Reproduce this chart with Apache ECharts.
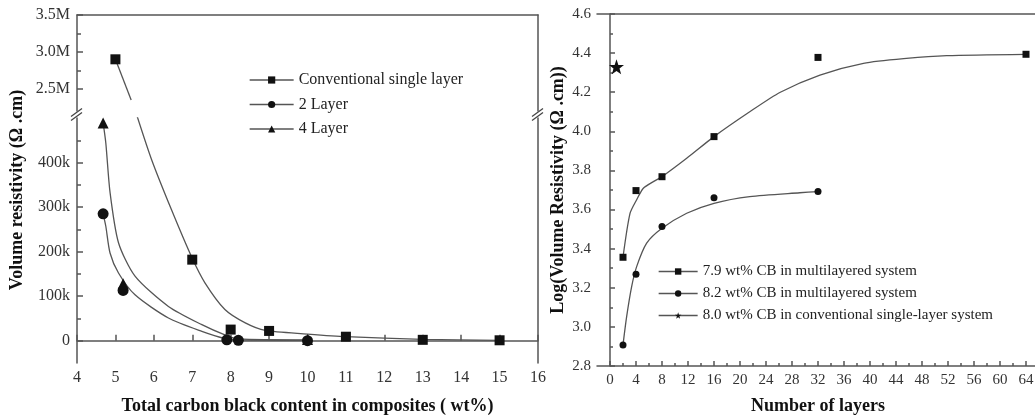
<!DOCTYPE html>
<html>
<head>
<meta charset="utf-8">
<script src="https://cdn.jsdelivr.net/npm/echarts@6/dist/echarts.min.js"></script>
<style>
  html, body { margin: 0; padding: 0; background: #fff; }
  #chart { width: 1035px; height: 417px; }
</style>
</head>
<body>
<div id="chart"></div>
<script>
// ---- left panel: resistivity vs carbon black content ----
const leftNames = ['Conventional single layer', '2 Layer', '4 Layer'];
const convUpper = [[5, 2900000]];
const convLower = [[7, 182000], [8, 25000], [9, 22000], [11, 9000], [13, 2000], [15, 1000]];
const layer2 = [[4.68, 285000], [5.2, 113000], [7.9, 2000], [8.2, 1000], [10, 0]];
const layer4 = [[4.68, 489000], [5.2, 128000], [10, 3000]];
// fitted curves
const convFitUpper = [[5, 2900000], [5.41, 2350000]];
const convFitLower = [[5.55, 508000], [5.94, 407000], [6.46, 294000], [7.0, 185000], [7.33, 130000],
  [7.85, 70000], [8.38, 40000], [8.9, 23000], [10, 15000], [11, 9000], [13, 3000], [15, 1000]];
const layer2Fit = [[4.68, 285000], [4.75, 257000], [4.86, 197000], [5.08, 152000], [5.51, 103000],
  [6.38, 51000], [7.25, 21000], [7.85, 5000], [8.2, 2000], [10, 1000]];
const layer4Fit = [[4.68, 489000], [4.75, 444000], [4.86, 333000], [5.08, 220000], [5.51, 145000],
  [6.38, 77000], [7.25, 36000], [7.85, 13000], [8.2, 4000], [10, 2000]];
const upperTicks = [2500000, 3000000, 3500000];
const upperMinor = [2750000, 3250000];
const lowerTicks = [0, 100000, 200000, 300000, 400000];
const lowerMinor = [50000, 150000, 250000, 350000, 450000];

// ---- right panel: log resistivity vs number of layers ----
const rightNames = ['7.9 wt% CB in multilayered system', '8.2 wt% CB in multilayered system',
  '8.0 wt% CB in conventional single-layer system'];
const cb79 = [[2, 3.356], [4, 3.697], [8, 3.768], [16, 3.973], [32, 4.378], [64, 4.394]];
const cb82 = [[2, 2.908], [4, 3.269], [8, 3.513], [16, 3.661], [32, 3.692]];
const cb80 = [[1, 4.33]];
const cb79Fit = [[2, 3.356], [3.08, 3.58], [4.1, 3.65], [5.13, 3.709], [6.67, 3.743], [8, 3.768],
  [11.8, 3.862], [16, 3.973], [21.5, 4.10], [26.2, 4.20], [32.3, 4.288], [39, 4.348], [45.6, 4.373],
  [51.8, 4.387], [64, 4.394]];
const cb82Fit = [[2, 2.908], [2.56, 3.052], [3.33, 3.206], [4.1, 3.308], [5.64, 3.428], [8, 3.504],
  [11.8, 3.581], [16, 3.632], [21.5, 3.666], [29.2, 3.686], [32, 3.692]];
const layerTicks = [0, 4, 8, 12, 16, 20, 24, 28, 32, 36, 40, 44, 48, 52, 56, 60, 64];
const layerMinor = [2, 6, 10, 14, 18, 22, 26, 30, 34, 38, 42, 46, 50, 54, 58, 62];
const logTicks = [2.8, 3.0, 3.2, 3.4, 3.6, 3.8, 4.0, 4.2, 4.4, 4.6];
const logMinor = [2.9, 3.1, 3.3, 3.5, 3.7, 3.9, 4.1, 4.3, 4.5];

const FONT = '"Liberation Serif", "DejaVu Serif", serif';
const frame = { color: '#555', width: 1.5 };
const leftBox = { left: 77, width: 461, top: 15, bottom: 363, breakTop: 111, breakBottom: 118 };

function lineOnly(extra) {
  return Object.assign({
    type: 'value', axisLine: { show: true, lineStyle: frame },
    axisTick: { show: false }, axisLabel: { show: false }, splitLine: { show: false }
  }, extra);
}

function ticksOnly(extra, vals, len) {
  return Object.assign({
    type: 'value', axisLine: { show: false },
    axisTick: { show: true, inside: true, length: len, customValues: vals, lineStyle: frame },
    axisLabel: { show: false }, splitLine: { show: false }
  }, extra);
}

function marks(name, data, symbol, size, xi, yi) {
  return {
    name: name, type: 'line', data: data, xAxisIndex: xi, yAxisIndex: yi,
    symbol: symbol, symbolSize: size, showSymbol: true,
    lineStyle: { opacity: 0 }, itemStyle: { color: '#111' }, z: 5
  };
}

function fit(data, xi, yi) {
  return {
    type: 'line', data: data, xAxisIndex: xi, yAxisIndex: yi, symbol: 'none',
    smooth: 0.25, silent: true,
    lineStyle: { color: '#555', width: 1.3 }, z: 3
  };
}

const labelStyle = (size) => ({ fontFamily: FONT, fontSize: size, color: '#333' });
const titleStyle = { fontFamily: FONT, fontSize: 18, fontWeight: 'bold', color: '#111' };

const chart = echarts.init(document.getElementById('chart'));

const option = {
  animation: false,
  backgroundColor: '#fff',
  grid: [
    { left: leftBox.left, width: leftBox.width, top: leftBox.top, height: leftBox.breakTop - leftBox.top, outerBoundsMode: 'none' },
    { left: leftBox.left, width: leftBox.width, top: leftBox.breakBottom, height: leftBox.bottom - leftBox.breakBottom, outerBoundsMode: 'none' },
    { left: 597, width: 442, top: 14, height: 352, outerBoundsMode: 'none' }
  ],
  xAxis: [
    lineOnly({ gridIndex: 0, min: 4, max: 16, position: 'top' }),
    {
      gridIndex: 1, type: 'value', min: 4, max: 16, interval: 1, position: 'bottom',
      axisLine: { show: true, lineStyle: frame },
      axisTick: { show: true, inside: true, length: 6, lineStyle: frame },
      axisLabel: Object.assign({ margin: 7 }, labelStyle(16)),
      splitLine: { show: false },
      name: 'Total carbon black content in composites ( wt%)',
      nameLocation: 'middle', nameGap: 34, nameTextStyle: titleStyle
    },
    {
      gridIndex: 2, type: 'value', min: -2, max: 66, position: 'bottom',
      axisLine: { show: true, lineStyle: frame },
      axisTick: { show: true, inside: true, length: 5, customValues: layerTicks, lineStyle: frame },
      axisLabel: Object.assign({ margin: 7, customValues: layerTicks }, labelStyle(15)),
      splitLine: { show: false },
      name: 'Number of layers',
      nameLocation: 'middle', nameGap: 31, nameTextStyle: titleStyle
    },
    ticksOnly({ gridIndex: 2, min: -2, max: 66, position: 'bottom' }, layerMinor, 3),
    lineOnly({ gridIndex: 2, min: -2, max: 66, position: 'top' })
  ],
  yAxis: [
    {
      gridIndex: 0, type: 'value', min: 2200000, max: 3500000, position: 'left',
      axisLine: { show: true, lineStyle: frame },
      axisTick: { show: true, inside: true, length: 6, customValues: upperTicks, lineStyle: frame },
      axisLabel: Object.assign({
        margin: 7, customValues: upperTicks,
        formatter: (v) => (v / 1000000).toFixed(1) + 'M'
      }, labelStyle(16)),
      splitLine: { show: false }
    },
    ticksOnly({ gridIndex: 0, min: 2200000, max: 3500000, position: 'left' }, upperMinor, 4),
    lineOnly({ gridIndex: 0, min: 2200000, max: 3500000, position: 'right' }),
    {
      gridIndex: 1, type: 'value', min: -50000, max: 500000, position: 'left',
      axisLine: { show: true, lineStyle: frame },
      axisTick: { show: true, inside: true, length: 6, customValues: lowerTicks, lineStyle: frame },
      axisLabel: Object.assign({
        margin: 7, customValues: lowerTicks,
        formatter: (v) => (v === 0 ? '0' : v / 1000 + 'k')
      }, labelStyle(16)),
      splitLine: { show: false }
    },
    ticksOnly({ gridIndex: 1, min: -50000, max: 500000, position: 'left' }, lowerMinor, 4),
    lineOnly({ gridIndex: 1, min: -50000, max: 500000, position: 'right' }),
    {
      gridIndex: 2, type: 'value', min: 2.8, max: 4.6, position: 'left',
      axisLine: { show: true, lineStyle: frame },
      axisTick: { show: true, inside: true, length: 5, customValues: logTicks, lineStyle: frame },
      axisLabel: Object.assign({
        margin: 6, customValues: logTicks, formatter: (v) => v.toFixed(1)
      }, labelStyle(15)),
      splitLine: { show: false },
      name: 'Log(Volume Resistivity (Ω .cm))',
      nameLocation: 'middle', nameRotate: 90, nameGap: 30, nameTextStyle: titleStyle
    },
    ticksOnly({ gridIndex: 2, min: 2.8, max: 4.6, position: 'left' }, logMinor, 3)
  ],
  legend: [
    {
      data: leftNames, orient: 'vertical', left: 244, top: 67,
      itemWidth: 44, itemHeight: 9, itemGap: 8.5,
      textStyle: { fontFamily: FONT, fontSize: 16, lineHeight: 16, color: '#222' },
      lineStyle: { color: '#555', width: 1.3, opacity: 1 },
      selectedMode: false
    },
    {
      data: rightNames, orient: 'vertical', left: 653, top: 259,
      itemWidth: 39, itemHeight: 8, itemGap: 7,
      textStyle: { fontFamily: FONT, fontSize: 15, lineHeight: 15, color: '#222' },
      lineStyle: { color: '#555', width: 1.3, opacity: 1 },
      selectedMode: false
    }
  ],
  graphic: [
    {
      type: 'text', x: 17, y: 190, rotation: Math.PI / 2,
      style: {
        text: 'Volume resistivity (Ω .cm)', font: 'bold 18px ' + FONT, fill: '#111',
        align: 'center', verticalAlign: 'middle'
      }
    }
  ].concat([leftBox.left, leftBox.left + leftBox.width].flatMap((x) => {
    const y = (leftBox.breakTop + leftBox.breakBottom) / 2;
    return [-2, 2].map((d) => ({
      type: 'line', silent: true,
      shape: { x1: x - 6, y1: y + d + 4, x2: x + 5, y2: y + d - 4 },
      style: { stroke: '#444', lineWidth: 1.3 }
    }));
  })),
  series: [
    fit(convFitUpper, 0, 0),
    fit(convFitLower, 1, 3),
    fit(layer2Fit, 1, 3),
    fit(layer4Fit, 1, 3),
    marks(leftNames[0], convUpper, 'rect', 10, 0, 0),
    marks(leftNames[0], convLower, 'rect', 10, 1, 3),
    marks(leftNames[1], layer2, 'circle', 11, 1, 3),
    marks(leftNames[2], layer4, 'triangle', 11, 1, 3),

    fit(cb79Fit, 2, 6),
    fit(cb82Fit, 2, 6),
    marks(rightNames[0], cb79, 'rect', 7, 2, 6),
    marks(rightNames[1], cb82, 'circle', 7, 2, 6),
    marks(rightNames[2], cb80, 'path://M0,-10L2.35,-3.24L9.51,-3.09L3.80,1.24L5.88,8.09L0,4L-5.88,8.09L-3.80,1.24L-9.51,-3.09L-2.35,-3.24Z', 15, 2, 6)
  ]
};

chart.setOption(option);
</script>
</body>
</html>
